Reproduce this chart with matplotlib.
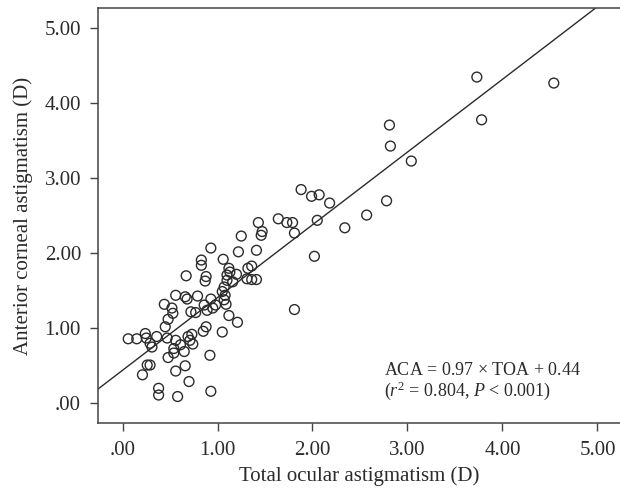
"""Scatter of anterior corneal vs total ocular astigmatism with fitted line."""
import matplotlib
matplotlib.use("Agg")
import matplotlib.pyplot as plt
from matplotlib.ticker import FuncFormatter

# Total ocular astigmatism (D)
toa = [3.73, 4.54, 3.78, 2.81, 2.82, 3.04, 1.88, 1.99, 2.07, 2.18,
       2.05, 2.34, 2.57, 2.78, 1.79, 1.81, 2.02, 1.81, 1.64, 1.73,
       1.43, 1.47, 1.46, 1.25, 1.41, 1.22, 0.93, 0.83, 0.83, 1.06,
       0.67, 0.88, 0.87, 1.12, 1.13, 1.10, 1.10, 1.16, 1.20, 1.32,
       1.36, 1.31, 1.36, 1.41, 1.07, 1.05, 1.08, 1.07, 1.09, 0.56,
       0.66, 0.68, 0.79, 0.93, 0.44, 0.52, 0.53, 0.48, 0.45, 0.72,
       0.77, 0.86, 0.89, 0.95, 0.98, 1.12, 1.21, 1.05, 0.88, 0.85,
       0.69, 0.73, 0.71, 0.74, 0.65, 0.92, 0.66, 0.56, 0.70, 0.93,
       0.58, 0.38, 0.38, 0.26, 0.29, 0.21, 0.06, 0.15, 0.24, 0.25,
       0.29, 0.31, 0.36, 0.47, 0.56, 0.61, 0.54, 0.54, 0.48]

# Anterior corneal astigmatism (D)
aca = [4.35, 4.27, 3.78, 3.71, 3.43, 3.23, 2.85, 2.76, 2.78, 2.67,
       2.44, 2.34, 2.51, 2.70, 2.41, 2.27, 1.96, 1.25, 2.46, 2.41,
       2.41, 2.29, 2.24, 2.23, 2.04, 2.02, 2.07, 1.91, 1.84, 1.92,
       1.70, 1.69, 1.63, 1.80, 1.75, 1.71, 1.64, 1.62, 1.72, 1.80,
       1.83, 1.66, 1.65, 1.65, 1.55, 1.49, 1.44, 1.38, 1.32, 1.44,
       1.42, 1.39, 1.43, 1.39, 1.32, 1.27, 1.20, 1.12, 1.02, 1.22,
       1.21, 1.31, 1.24, 1.27, 1.31, 1.17, 1.08, 0.95, 1.02, 0.96,
       0.89, 0.92, 0.84, 0.79, 0.69, 0.64, 0.50, 0.43, 0.29, 0.16,
       0.09, 0.20, 0.11, 0.51, 0.51, 0.38, 0.86, 0.86, 0.93, 0.87,
       0.80, 0.75, 0.89, 0.87, 0.84, 0.78, 0.73, 0.67, 0.61]

fit_slope = 0.97
fit_intercept = 0.44
ticks = [0, 1, 2, 3, 4, 5]

plt.rcParams["font.family"] = ["Liberation Serif", "DejaVu Serif"]
plt.rcParams["mathtext.fontset"] = "custom"
plt.rcParams["mathtext.rm"] = "Liberation Serif"
plt.rcParams["mathtext.it"] = "Liberation Serif:italic"

ink = "#2b2b2b"

fig = plt.figure(figsize=(6.2, 4.94), dpi=100)
ax = fig.add_axes([0.1576, 0.1431, 0.8424, 0.8401])

ax.scatter(toa, aca, s=50, facecolors="none", edgecolors=ink, linewidths=1.0, zorder=3)

xlim = (-0.261, 5.237)
ylim = (-0.267, 5.267)
ax.plot(xlim, [fit_slope * v + fit_intercept for v in xlim], color=ink, lw=1.0, zorder=2)
ax.set_xlim(*xlim)
ax.set_ylim(*ylim)

fmt = FuncFormatter(lambda v, pos: f"{v:.2f}".lstrip("0") if abs(v) < 1e-9 else f"{v:.2f}")
ax.set_xticks(ticks)
ax.set_yticks(ticks)
ax.xaxis.set_major_formatter(fmt)
ax.yaxis.set_major_formatter(fmt)

for side in ("left", "bottom", "top"):
    ax.spines[side].set_color("#444444")
    ax.spines[side].set_linewidth(1.1)
ax.spines["right"].set_visible(False)
ax.tick_params(direction="out", length=6, width=1.0, color="#444444",
               labelsize=15, labelcolor=ink)
ax.tick_params(axis="y", pad=6)
ax.tick_params(axis="x", pad=7)

ax.set_xlabel("Total ocular astigmatism (D)", fontsize=15, color=ink, labelpad=4)
ax.set_ylabel("Anterior corneal astigmatism (D)", fontsize=15, color=ink, labelpad=8)

ax.text(2.75, 0.38, r"ACA = 0.97 $\times$ TOA + 0.44", fontsize=13, color=ink,
        ha="left", va="baseline")
ax.text(2.75, 0.10, r"($\mathit{r}^2$ = 0.804, $\mathit{P}$ < 0.001)", fontsize=13,
        color=ink, ha="left", va="baseline")

fig.savefig("out.png", dpi=100)
